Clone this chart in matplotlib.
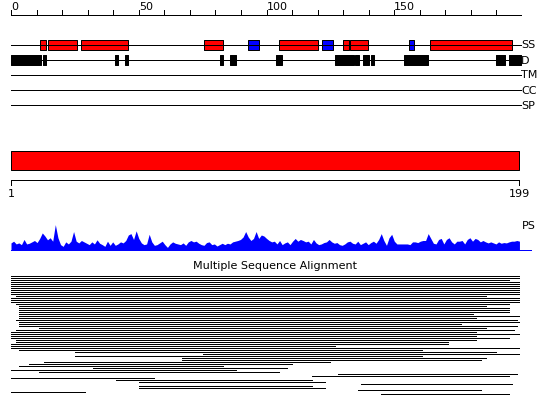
import matplotlib
matplotlib.use("Agg")
import numpy as np
from matplotlib import pyplot as plt

matplotlib.rcParams['font.family'] = 'DejaVu Sans'

# sequence ruler
seq_len = 199
ruler_ticks = list(range(0, 200, 10))
ruler_labels = [0, 50, 100, 150]

# feature tracks (residue ranges)
track_names = ['SS', 'D', 'TM', 'CC', 'SP']
helix = [(11.4, 13.6), (14.6, 25.7), (27.4, 45.7), (75.5, 82.9), (105.0, 120.0),
         (130.0, 132.2), (132.8, 139.8), (164.1, 196.2)]
strand = [(92.9, 96.9), (121.8, 125.9), (155.9, 157.8)]
disorder = [(0.0, 11.6), (12.6, 13.6), (40.7, 41.9), (44.6, 45.8), (81.8, 83.0),
            (85.7, 88.1), (103.7, 106.1), (126.8, 134.2), (134.8, 136.2),
            (137.9, 140.1), (140.9, 142.1), (153.8, 163.1), (189.8, 193.3),
            (194.9, 199.5)]

# domain bar
domain = [(0, 199)]
domain_labels = ['1', '199']

# PS profile (arbitrary units)
ps = [22, 27, 19, 22, 17, 32, 19, 21, 25, 29,
      23, 35, 51, 42, 31, 37, 27, 75, 37, 17,
      12, 25, 19, 27, 55, 27, 22, 29, 25, 21,
      17, 25, 19, 31, 21, 17, 12, 27, 15, 25,
      15, 19, 25, 22, 29, 45, 49, 32, 57, 35,
      22, 17, 19, 47, 25, 15, 17, 22, 27, 17,
      9, 19, 25, 21, 19, 17, 22, 15, 25, 29,
      25, 27, 21, 17, 15, 23, 25, 17, 19, 13,
      17, 21, 17, 21, 19, 25, 27, 29, 32, 39,
      55, 39, 29, 35, 55, 35, 45, 42, 35, 29,
      25, 27, 19, 29, 17, 22, 25, 17, 27, 35,
      27, 32, 29, 25, 27, 19, 32, 22, 17, 19,
      23, 25, 32, 25, 21, 23, 17, 15, 19, 25,
      27, 21, 19, 27, 17, 21, 25, 17, 23, 27,
      21, 32, 49, 29, 15, 37, 47, 27, 19, 19,
      19, 19, 19, 17, 25, 25, 23, 27, 29, 29,
      49, 35, 21, 19, 32, 35, 19, 32, 37, 25,
      19, 27, 27, 29, 19, 32, 37, 27, 35, 32,
      25, 29, 25, 22, 25, 22, 19, 25, 21, 23,
      22, 25, 27, 27, 29, 27]

# multiple sequence alignment hits (start / end residue)
msa_start = [0, 0, 0, 0, 0, 0, 0, 0, 0, 0,
             2, 0, 0, 0, 2, 3, 3, 3, 3, 3,
             3, 3, 2, 3, 3, 3, 11, 2, 0, 0,
             0, 0, 2, 2, 0, 0, 0, 3, 25, 75,
             25, 67, 67, 13, 7, 3, 32, 0, 11, 128,
             118, 0, 41, 50, 137, 50, 50, 136, 0, 145]
msa_end = [199, 199, 195, 199, 199, 199, 199, 199, 199, 199,
           186, 199, 199, 199, 195, 186, 195, 195, 195, 181,
           199, 182, 198, 199, 176, 198, 186, 197, 182, 199,
           182, 195, 182, 171, 171, 127, 199, 161, 190, 199,
           161, 186, 184, 125, 110, 83, 108, 88, 105, 198,
           195, 56, 118, 123, 196, 118, 123, 184, 29, 195]

px = 2.555  # pixels per residue
lw = 1.0

fig = plt.figure(figsize=(5.5, 4.15), dpi=100)
ax = fig.add_axes([0, 0, 1, 1])
ax.set_xlim(-11 / px, 539 / px)
ax.set_ylim(415, 0)
ax.axis('off')

line_kw = dict(color='black', lw=0.72, antialiased=False)

# top ruler
ax.hlines(15.5, 0, 199.6, **line_kw)
ax.vlines(ruler_ticks, 10.5, 15.5, **line_kw)
for r in ruler_labels:
    ax.text(r, 10, str(r), ha='left', va='baseline', fontsize=8)

# tracks
track_y = [45.5, 60.5, 75.5, 90.5, 105.5]
ax.hlines(track_y, 0, 199.6, **line_kw)
for name, y in zip(track_names, track_y):
    ax.text(199.7, y, name, ha='left', va='center', fontsize=8)

ax.broken_barh([(s, e - s) for s, e in helix], (40.5, 10),
               facecolors='#ff0000', edgecolors='black', lw=0.72)
ax.broken_barh([(s, e - s) for s, e in strand], (40.5, 10),
               facecolors='#0000ff', edgecolors='black', lw=0.72)
ax.broken_barh([(s, e - s) for s, e in disorder], (55.5, 10),
               facecolors='black', edgecolors='black', lw=0.72)

# domain bar + scale
ax.broken_barh([(s, e - s) for s, e in domain], (150.5, 20),
               facecolors='#ff0000', edgecolors='black', lw=0.72)
ax.hlines(180.5, 0, seq_len, **line_kw)
ax.vlines([0, seq_len], 180.5, 185.5, **line_kw)
ax.text(0, 194, domain_labels[0], ha='center', va='center', fontsize=8)
ax.text(seq_len, 194, domain_labels[1], ha='center', va='center', fontsize=8)

# PS profile
xs = np.linspace(0, seq_len, len(ps))
ax.fill_between(xs, 250.5, 250.5 - np.array(ps) / 2.9, color='#0000ff', lw=0)
ax.hlines(250, 0, 203.5, color='#0000ff', lw=0.72, antialiased=False)
ax.text(200, 226, 'PS', ha='left', va='center', fontsize=8)

# MSA
ax.text(0.5, 266, 'Multiple Sequence Alignment', ha='center', va='center',
        fontsize=8, transform=ax.get_yaxis_transform())
msa_y = 275.5 + 2 * np.arange(len(msa_start))
ax.hlines(msa_y, msa_start, msa_end, **line_kw)

fig.savefig('out.png', dpi=100)
